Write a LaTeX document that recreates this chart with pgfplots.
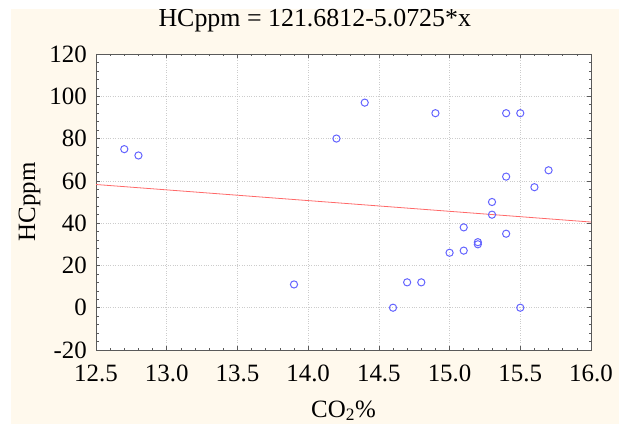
\documentclass[border=0pt]{standalone}
\usepackage{pgfplots}
\pgfplotsset{compat=1.18}
\usepackage{fontspec}
\setmainfont{Liberation Serif}
\definecolor{cream}{RGB}{255,249,237}
\definecolor{ptblue}{RGB}{100,100,255}
\definecolor{lnred}{RGB}{255,105,105}
\definecolor{frame}{RGB}{90,90,90}
\begin{document}
\begin{tikzpicture}
\path[fill=white] (0,0) rectangle (625bp,424bp);
\fill[cream] (11bp,0) rectangle (619bp,415bp);
\begin{axis}[
  at={(96bp,74bp)}, anchor=south west,
  scale only axis, width=495bp, height=296bp,
  xmin=12.5, xmax=16.0, ymin=-20, ymax=120,
  xtick={12.5,13.0,...,16.0}, ytick={-20,0,...,120},
  minor x tick num=4, minor y tick num=4,
  xticklabel style={/pgf/number format/fixed, /pgf/number format/fixed zerofill, /pgf/number format/precision=1},
  /pgf/number format/assume math mode=true,
  tick align=inside, major tick length=4bp, minor tick length=2.5bp,
  tick style={frame, line width=0.6pt},
  axis line style={frame, line width=0.8pt},
  axis background/.style={fill=white},
  grid=major, major grid style={dotted, gray!40, line width=0.7pt},
  ticklabel style={font=\fontsize{25}{25}\selectfont},
  x tick label style={anchor=base, yshift=-31bp, inner sep=0pt},
  y tick label style={anchor=east, inner sep=0pt, xshift=-9bp},
  title={HCppm = 121.6812-5.0725*x},
  title style={font=\fontsize{26}{26}\selectfont, at={(axis description cs:0.442,1)}, anchor=base, yshift=22bp},
  xlabel={CO\textsubscript{2}\%},
  xlabel style={font=\fontsize{25}{25}\selectfont, at={(axis description cs:0.5,0)}, anchor=base, yshift=-67bp},
  ylabel={HCppm},
  ylabel style={font=\fontsize{25}{25}\selectfont, at={(axis description cs:-0.1343,0.5)}, anchor=center},
]
\addplot[lnred, line width=0.8pt] coordinates {(12.5,58.2745) (16.0,40.5212)};
\addplot[only marks, mark=o, mark size=3.6bp, mark options={ptblue, line width=1pt}] coordinates {
(12.7,75) (12.8,72) (13.9,11) (14.2,80) (14.4,97) (14.6,0) (14.7,12) (14.8,12)
(14.9,92) (15.0,26) (15.1,27) (15.1,38) (15.2,30) (15.2,31) (15.3,50) (15.3,44)
(15.4,92) (15.4,62) (15.4,35) (15.5,92) (15.5,0) (15.6,57) (15.7,65)
};
\end{axis}
\end{tikzpicture}
\end{document}
